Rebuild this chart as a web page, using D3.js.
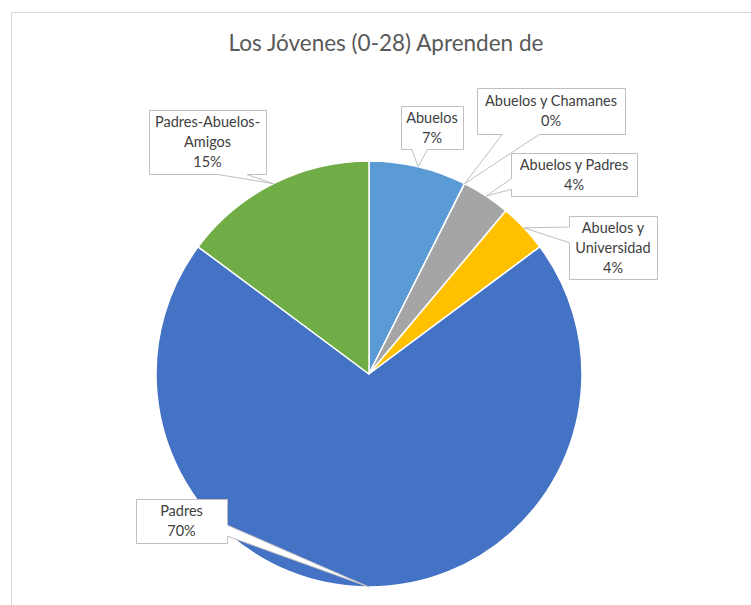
<!DOCTYPE html>
<html>
<head>
<meta charset="utf-8">
<script src="https://cdn.jsdelivr.net/npm/d3@7"></script>
<style>
  body { margin: 0; background: #fff; }
  svg { display: block; }
</style>
</head>
<body>
<div id="div_pie"></div>
<script>
// data (counts out of 27)
var categories = ["Abuelos", "Abuelos y Chamanes", "Abuelos y Padres", "Abuelos y Universidad", "Padres", "Padres-Abuelos-Amigos"];
var counts = [2, 0, 1, 1, 19, 4];
var colors = ["#5B9BD5", "#ED7D31", "#A5A5A5", "#FFC000", "#4472C4", "#70AD47"];
var title = "Los Jóvenes (0-28) Aprenden de";

// where each callout box sits (manual label layout)
var labelBoxes = [
  {x: 401, y: 106, w: 62, h: 43, lines: ["Abuelos"]},
  {x: 477, y: 88, w: 148, h: 46, lines: ["Abuelos y Chamanes"]},
  {x: 511, y: 153, w: 126, h: 43, lines: ["Abuelos y Padres"]},
  {x: 569, y: 216, w: 88, h: 63, lines: ["Abuelos y", "Universidad"]},
  {x: 136, y: 499, w: 91, h: 44, lines: ["Padres"]},
  {x: 149, y: 110, w: 117, h: 64, lines: ["Padres-Abuelos-", "Amigos"]}
];

var width = 751, height = 605;
var cx = 369, cy = 374, radius = 213;

var data = categories.map(function(c, i) { return {name: c, value: counts[i], color: colors[i], box: labelBoxes[i]}; });
var total = d3.sum(counts);
var fmt = d3.format(".0%");

var svg = d3.select("#div_pie")
  .append("svg")
  .attr("width", width)
  .attr("height", height);

// chart area outline
svg.append("rect")
  .attr("x", 11.5).attr("y", 12.5)
  .attr("width", width + 20).attr("height", height + 20)
  .attr("fill", "#fff")
  .attr("stroke", "#D9D9D9");

svg.append("text")
  .attr("x", 386).attr("y", 51)
  .attr("text-anchor", "middle")
  .attr("font-family", "Lato, 'Open Sans', sans-serif")
  .attr("font-size", "22.5px")
  .attr("fill", "#595959")
  .text(title);

var pie = d3.pie().sort(null).value(function(d) { return d.value; });
var arcs = pie(data);
var arc = d3.arc().innerRadius(0).outerRadius(radius);
var edge = d3.arc().innerRadius(radius).outerRadius(radius);

var g = svg.append("g").attr("transform", "translate(" + cx + "," + cy + ")");

g.selectAll("path.slice")
  .data(arcs)
  .enter()
  .append("path")
  .attr("class", "slice")
  .attr("d", arc)
  .attr("fill", function(d) { return d.data.color; })
  .attr("stroke", "#fff")
  .attr("stroke-width", 1.5)
  .attr("stroke-linejoin", "round");

// rectangular callout with a wedge pointing at the slice
function calloutPath(b, t) {
  var x0 = b.x + 0.5, y0 = b.y + 0.5, w = b.w, h = b.h;
  var x1 = x0 + w, y1 = y0 + h;
  var mx = x0 + w / 2, my = y0 + h / 2;
  var dx = (t[0] - mx) / (w / 2), dy = (t[1] - my) / (h / 2);
  var vert = Math.abs(dy) >= Math.abs(dx);
  var side = vert ? (dy < 0 ? "top" : "bottom") : (dx > 0 ? "right" : "left");
  var p = d3.path(), a;
  p.moveTo(x0, y0);
  if (side == "top") {
    a = t[0] < mx ? [x0 + w * 2 / 12, x0 + w * 5 / 12] : [x0 + w * 7 / 12, x0 + w * 10 / 12];
    p.lineTo(a[0], y0); p.lineTo(t[0], t[1]); p.lineTo(a[1], y0);
  }
  p.lineTo(x1, y0);
  if (side == "right") {
    a = t[1] < my ? [y0 + h * 2 / 12, y0 + h * 5 / 12] : [y0 + h * 7 / 12, y0 + h * 10 / 12];
    p.lineTo(x1, a[0]); p.lineTo(t[0], t[1]); p.lineTo(x1, a[1]);
  }
  p.lineTo(x1, y1);
  if (side == "bottom") {
    a = t[0] < mx ? [x0 + w * 5 / 12, x0 + w * 2 / 12] : [x0 + w * 10 / 12, x0 + w * 7 / 12];
    p.lineTo(a[0], y1); p.lineTo(t[0], t[1]); p.lineTo(a[1], y1);
  }
  p.lineTo(x0, y1);
  if (side == "left") {
    a = t[1] < my ? [y0 + h * 5 / 12, y0 + h * 2 / 12] : [y0 + h * 10 / 12, y0 + h * 7 / 12];
    p.lineTo(x0, a[0]); p.lineTo(t[0], t[1]); p.lineTo(x0, a[1]);
  }
  p.closePath();
  return p.toString();
}

var labels = svg.selectAll("g.label")
  .data(arcs)
  .enter()
  .append("g")
  .attr("class", "label");

labels.append("path")
  .attr("d", function(d) {
    var c = edge.centroid(d);
    return calloutPath(d.data.box, [cx + c[0], cy + c[1]]);
  })
  .attr("fill", "#fff")
  .attr("stroke", "#BFBFBF")
  .attr("stroke-width", 1);

labels.each(function(d) {
  var b = d.data.box;
  var lines = b.lines.concat([fmt(d.data.value / total)]);
  var lh = 20, fs = 14.5;
  var first = b.y + b.h / 2 - (lines.length - 1) * lh / 2;
  d3.select(this).selectAll("text")
    .data(lines)
    .enter()
    .append("text")
    .attr("x", b.x + b.w / 2)
    .attr("y", function(l, i) { return first + i * lh + fs * 0.35; })
    .attr("text-anchor", "middle")
    .attr("font-family", "Lato, 'Open Sans', sans-serif")
    .attr("font-size", fs + "px")
    .attr("fill", "#404040")
    .text(function(l) { return l; });
});
</script>
</body>
</html>
